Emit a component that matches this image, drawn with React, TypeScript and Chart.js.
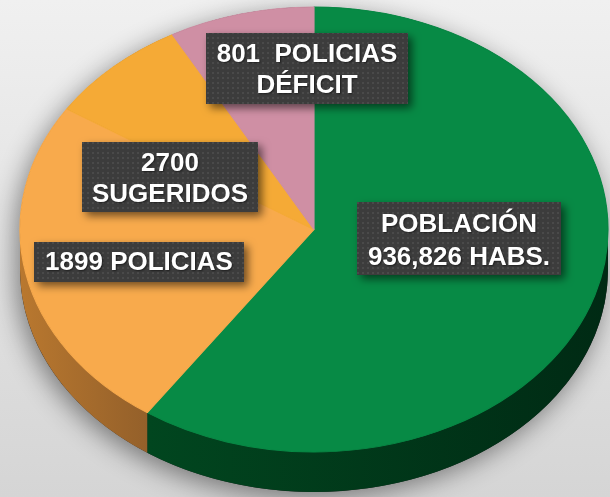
import React, { useEffect, useRef } from 'react';
import { Chart, registerables } from 'chart.js';

Chart.register(...registerables);

// ---- data (slice shares in % of the pie, clockwise from 12 o'clock) ----
const categories = ['POBLACIÓN', '1899 POLICIAS', '2700 SUGERIDOS', '801 POLICIAS DÉFICIT'];
const shares = [59.6, 24.5, 7.9, 8.0];
const labelLines = [
  ['POBLACIÓN', '936,826 HABS.'],
  ['1899 POLICIAS'],
  ['2700', 'SUGERIDOS'],
  ['801  POLICIAS', 'DÉFICIT'],
];

// ---- styles ----
const topColors = ['#078a45', '#f8aa4c', '#f5aa36', '#cf8fa4'];
const sideColors = [
  ['#01461f', '#002a14'],
  ['#b9782f', '#94602a'],
  ['#b9782f', '#94602a'],
  ['#8f5f6f', '#7a5060'],
];

// ---- layout ----
const GEO = { cx: 314, cy: 229.5, rx: 294, ry: 222.5, depth: 40 };
const LABEL_BOXES = [
  { x: 357, y: 202, w: 204, h: 73, tx: 459, baselines: [232, 265] },
  { x: 34, y: 242, w: 210, h: 40, tx: 139, baselines: [270] },
  { x: 82, y: 142, w: 176, h: 70, tx: 170, baselines: [171, 202] },
  { x: 206, y: 33, w: 202, h: 71, tx: 307, baselines: [62, 93] },
];
const FONT = 'bold 26px "Liberation Sans", Arial, sans-serif';

function makePattern(ctx: CanvasRenderingContext2D) {
  const c = document.createElement('canvas');
  c.width = 5;
  c.height = 5;
  const p = c.getContext('2d')!;
  p.fillStyle = '#3c3c3c';
  p.fillRect(0, 0, 5, 5);
  p.fillStyle = '#4a4a4a';
  p.fillRect(2, 2, 2, 2);
  return ctx.createPattern(c, 'repeat');
}

const pie3d = {
  id: 'pie3d',
  beforeDraw(chart: any) {
    const { ctx, width, height } = chart;
    const g = ctx.createLinearGradient(0, 0, 0, height);
    g.addColorStop(0, '#f0f0f0');
    g.addColorStop(1, '#d5d5d5');
    ctx.save();
    ctx.fillStyle = g;
    ctx.fillRect(0, 0, width, height);
    ctx.restore();
  },
  beforeDatasetsDraw(chart: any) {
    const ctx: CanvasRenderingContext2D = chart.ctx;
    const arcs = chart.getDatasetMeta(0).data;
    if (!arcs.length) return;
    const { cx, cy, rx, ry, depth } = GEO;

    // drop shadow of the whole disc
    ctx.save();
    ctx.shadowColor = 'rgba(0,0,0,0.45)';
    ctx.shadowBlur = 26;
    ctx.shadowOffsetX = -4;
    ctx.shadowOffsetY = 6;
    ctx.fillStyle = '#222';
    ctx.beginPath();
    ctx.ellipse(cx, cy, rx, ry, 0, 0, Math.PI * 2);
    ctx.ellipse(cx, cy + depth, rx, ry, 0, 0, Math.PI * 2);
    ctx.rect(cx - rx, cy, rx * 2, depth);
    ctx.fill();
    ctx.restore();

    // side walls (front half only)
    arcs.forEach((arc: any, i: number) => {
      const { startAngle, endAngle } = arc.getProps(['startAngle', 'endAngle'], true);
      const a = Math.max(startAngle, 0);
      const b = Math.min(endAngle, Math.PI);
      if (a >= b) return;
      const x1 = cx + rx * Math.cos(a);
      const x2 = cx + rx * Math.cos(b);
      const g = ctx.createLinearGradient(Math.max(x1, x2), 0, Math.min(x1, x2), 0);
      g.addColorStop(0, sideColors[i][1]);
      g.addColorStop(1, sideColors[i][0]);
      ctx.save();
      ctx.fillStyle = g;
      ctx.beginPath();
      ctx.ellipse(cx, cy, rx, ry, 0, a, b, false);
      ctx.lineTo(cx + rx * Math.cos(b), cy + depth + ry * Math.sin(b));
      ctx.ellipse(cx, cy + depth, rx, ry, 0, b, a, true);
      ctx.closePath();
      ctx.fill();
      ctx.restore();
    });

    // squash the library's circular pie into the tilted ellipse
    const a0 = arcs[0];
    const R0 = a0.outerRadius;
    ctx.save();
    ctx.translate(cx, cy);
    ctx.scale(rx / R0, ry / R0);
    ctx.translate(-a0.x, -a0.y);
  },
  afterDatasetsDraw(chart: any) {
    chart.ctx.restore();
  },
  afterDraw(chart: any) {
    const ctx: CanvasRenderingContext2D = chart.ctx;
    const pattern = makePattern(ctx);
    LABEL_BOXES.forEach((box, i) => {
      ctx.save();
      ctx.shadowColor = 'rgba(0,0,0,0.55)';
      ctx.shadowBlur = 8;
      ctx.shadowOffsetX = 4;
      ctx.shadowOffsetY = 4;
      ctx.fillStyle = pattern || '#3c3c3c';
      ctx.fillRect(box.x, box.y, box.w, box.h);
      ctx.restore();

      ctx.save();
      ctx.font = FONT;
      ctx.fillStyle = '#ffffff';
      ctx.textAlign = 'center';
      ctx.textBaseline = 'alphabetic';
      ctx.shadowColor = 'rgba(0,0,0,0.5)';
      ctx.shadowBlur = 2;
      ctx.shadowOffsetX = 1;
      ctx.shadowOffsetY = 1;
      labelLines[i].forEach((line, j) => {
        ctx.fillText(line, box.tx, box.baselines[j]);
      });
      ctx.restore();
    });
  },
};

export default function App() {
  const ref = useRef<HTMLCanvasElement | null>(null);
  useEffect(() => {
    if (!ref.current) return;
    const chart = new Chart(ref.current, {
      type: 'pie',
      data: {
        labels: categories,
        datasets: [
          {
            data: shares,
            backgroundColor: topColors,
            borderColor: topColors,
            borderWidth: 1,
            clip: false as any,
          } as any,
        ],
      },
      options: {
        responsive: false,
        animation: false,
        events: [],
        layout: { padding: 0 },
        plugins: {
          legend: { display: false },
          tooltip: { enabled: false },
        },
      },
      plugins: [pie3d as any],
    });
    return () => chart.destroy();
  }, []);
  return (
    <div style={{ position: 'fixed', left: 0, top: 0, width: 610, height: 497 }}>
      <canvas ref={ref} width={610} height={497} style={{ display: 'block', width: 610, height: 497 }} />
    </div>
  );
}
